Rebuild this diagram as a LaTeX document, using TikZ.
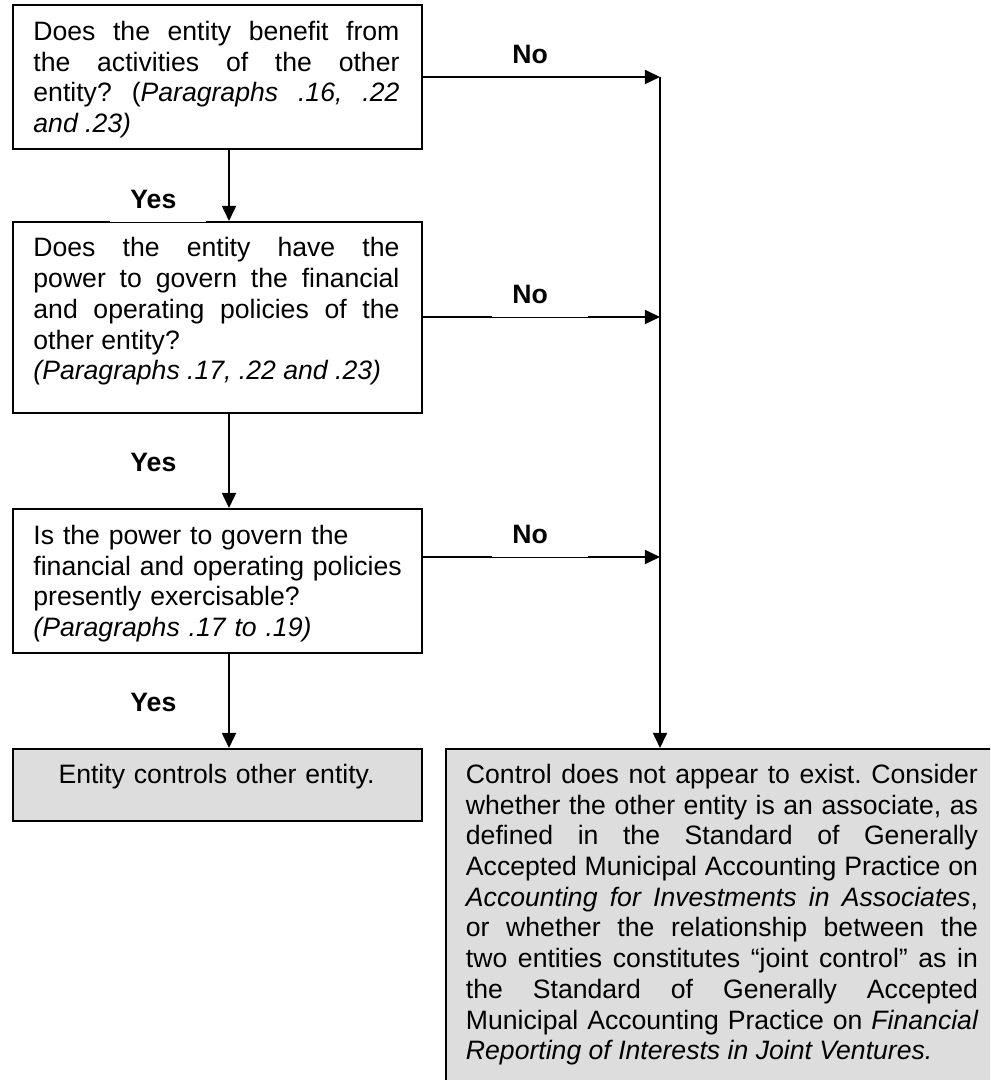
\documentclass[tikz,border=0pt]{standalone}
\usepackage{fontspec}
\setmainfont{Liberation Sans}
\usetikzlibrary{arrows.meta}
\newdimen\uu \uu=0.451pt
\definecolor{boxgray}{RGB}{221,221,221}
\frenchspacing
\begin{document}
\begin{tikzpicture}[x=0.451pt, y=-0.451pt,
  box/.style={draw, line width=0.9pt, inner sep=0pt, anchor=north west},
  txt/.style={inner sep=0pt, anchor=north west, font=\fontsize{12}{13.85}\selectfont},
  arr/.style={line width=0.9pt, -{Triangle[length=6.8pt,width=6.3pt]}},
  lbl/.style={fill=white, inner xsep=20\uu, inner ysep=7.5\uu, text width=56\uu,
    text height=20\uu, text depth=6\uu, align=left, anchor=base west,
    font=\fontsize{12}{13.85}\selectfont\bfseries}]
\useasboundingbox (0,0) rectangle (990,1080);
\clip (0,0) rectangle (990,1080);

% boxes
\node[box, minimum width=409\uu, minimum height=144\uu] (b1) at (12,4) {};
\node[box, minimum width=409\uu, minimum height=191\uu] (b2) at (12,221) {};
\node[box, minimum width=409\uu, minimum height=144\uu] (b3) at (12,508) {};
\node[box, fill=boxgray, minimum width=409\uu, minimum height=72\uu] (b4) at (12,748) {};
\node[box, fill=boxgray, minimum width=600\uu, minimum height=400\uu] (b5) at (445,748) {};

% texts
\node[txt, text width=366\uu, align=justify] (t1) at (33,4)
  {\noindent\frenchspacing\rule{0pt}{36\uu}Does the entity benefit from\linebreak
   the activities of the other\linebreak
   entity? (\textit{Paragraphs .16, .22\linebreak
   and .23)}};
\node[txt, text width=366\uu, align=justify] (t2) at (33,221)
  {\noindent\frenchspacing\rule{0pt}{35.5\uu}Does the entity have the\linebreak
   power to govern the financial\linebreak
   and operating policies of the\linebreak
   other entity?\\
   \textit{(Paragraphs .17, .22 and .23)}};
\node[txt, text width=375\uu, align=left] (t3) at (33,508)
  {\frenchspacing\rule{0pt}{36\uu}Is the power to govern the\\
   financial and operating policies\\
   presently exercisable?\\
   \textit{(Paragraphs .17 to .19)}};
\node[txt, anchor=north, text width=409\uu, align=center] (t4) at (216.5,748)
  {\rule{0pt}{35\uu}Entity controls other entity.};
\node[txt, text width=512\uu, align=justify] (t5) at (465.5,748)
  {\noindent\frenchspacing\rule{0pt}{35\uu}Control does not appear to exist. Consider\linebreak
   whether the other entity is an associate, as\linebreak
   defined in the Standard of Generally\linebreak
   Accepted Municipal Accounting Practice on\linebreak
   \textit{Accounting for Investments in Associates},\linebreak
   or whether the relationship between the\linebreak
   two entities constitutes “joint control” as in\linebreak
   the Standard of Generally Accepted\linebreak
   Municipal Accounting Practice on \textit{Financial\linebreak
   Reporting of Interests in Joint Ventures.}};

% connectors
\coordinate (ax) at (229,0);
\coordinate (j1) at (660,77);
\coordinate (j2) at (660,317);
\coordinate (j3) at (660,557);
\draw[arr] (b1.south -| ax) -- (b2.north -| ax);
\draw[arr] (b2.south -| ax) -- (b3.north -| ax);
\draw[arr] (b3.south -| ax) -- (b4.north -| ax);
\draw[arr] (b1.east |- j1) -- (j1);
\draw[arr] (b2.east |- j2) -- (j2);
\draw[arr] (b3.east |- j3) -- (j3);
\draw[arr] (j1) -- (j1 |- b5.north);

% labels
\node[lbl] (y1) at (110,208.5) {Yes};
\node[lbl] (y2) at (110,471.7) {Yes};
\node[lbl] (y3) at (110,711.7) {Yes};
\node[lbl, text depth=3\uu] (n1) at (492,63.3) {No};
\node[lbl] (n2) at (492,303.3) {No};
\node[lbl] (n3) at (492,543) {No};
\end{tikzpicture}
\end{document}
